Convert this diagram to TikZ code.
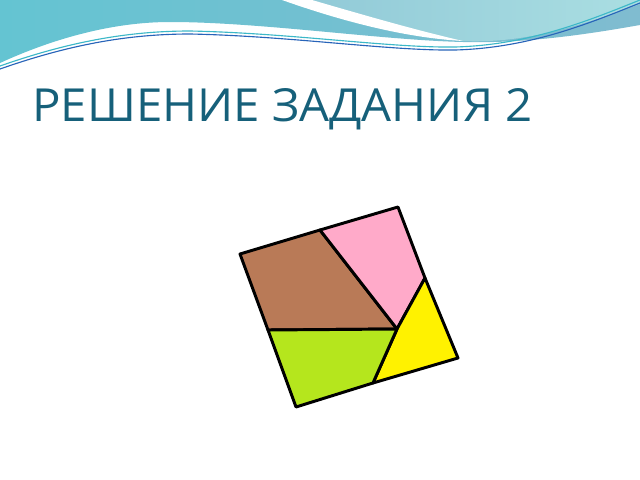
\documentclass[tikz,border=0pt]{standalone}
\usepackage{fontspec}
\setmainfont{Open Sans}
\usetikzlibrary{positioning}
\definecolor{titleteal}{RGB}{22,96,122}
\definecolor{pbrown}{RGB}{185,122,87}
\definecolor{ppink}{RGB}{255,170,201}
\definecolor{pyellow}{RGB}{255,242,0}
\definecolor{pgreen}{RGB}{181,230,29}
\definecolor{wavel}{RGB}{100,196,210}
\definecolor{wavem}{RGB}{128,188,208}
\definecolor{wavec}{RGB}{170,222,226}
\definecolor{lineteal}{RGB}{60,184,200}
\definecolor{lineblue}{RGB}{40,100,185}
\tikzset{
    piece/.style={draw=black, line width=2.1pt, line join=round},
    title/.style={font=\fontsize{32.4}{38}\selectfont, text=titleteal, inner sep=0pt, anchor=base west, xscale=1.04}
}

\begin{document}
\begin{tikzpicture}[x=0.025cm, y=-0.025cm]
    \useasboundingbox[fill=white] (0,0) rectangle (640,480);

    % header waves
    \shade[left color=wavel, right color=wavem]
        (0,0) -- (0,63) .. controls (50,40) and (110,22) .. (170,22)
        .. controls (260,22) and (380,40) .. (463,42)
        .. controls (530,44) and (600,32) .. (640,25) -- (640,0) -- cycle;
    \shade[left color=wavem!60!wavec, right color=wavec]
        (300,0) .. controls (370,22) and (420,36) .. (463,41)
        .. controls (530,44) and (590,22) .. (640,4) -- (640,0) -- cycle;
    \fill[white]
        (282,0) .. controls (350,24) and (410,38) .. (463,41)
        .. controls (415,30) and (360,14) .. (312,0) -- cycle;
    \draw[lineteal, line width=0.8pt]
        (0,66) .. controls (60,45) and (120,31) .. (190,31)
        .. controls (290,33) and (390,48) .. (455,47)
        .. controls (530,45) and (590,20) .. (640,0);
    \draw[lineblue, line width=0.8pt]
        (0,69) .. controls (60,48) and (120,34) .. (190,34)
        .. controls (290,36) and (390,51) .. (455,50)
        .. controls (530,48) and (590,23) .. (640,3);

    % title
    \node[title] (heading) at (32,121) {РЕШЕНИЕ ЗАДАНИЯ 2};

    % the cut square
    \coordinate (tl) at (240,254);
    \coordinate (tr) at (398,207);
    \coordinate (br) at (458,358);
    \coordinate (bl) at (296,407);
    \coordinate (top) at (320,230);
    \coordinate (right) at (425,278);
    \coordinate (left) at (268,330);
    \coordinate (bottom) at (373,383);
    \coordinate (mid) at (397,329);

    \filldraw[piece, fill=pbrown] (tl) -- (top) -- (mid) -- (left) -- cycle;
    \filldraw[piece, fill=ppink] (top) -- (tr) -- (right) -- (mid) -- cycle;
    \filldraw[piece, fill=pyellow] (right) -- (br) -- (bottom) -- (mid) -- cycle;
    \filldraw[piece, fill=pgreen] (left) -- (mid) -- (bottom) -- (bl) -- cycle;
\end{tikzpicture}
\end{document}
